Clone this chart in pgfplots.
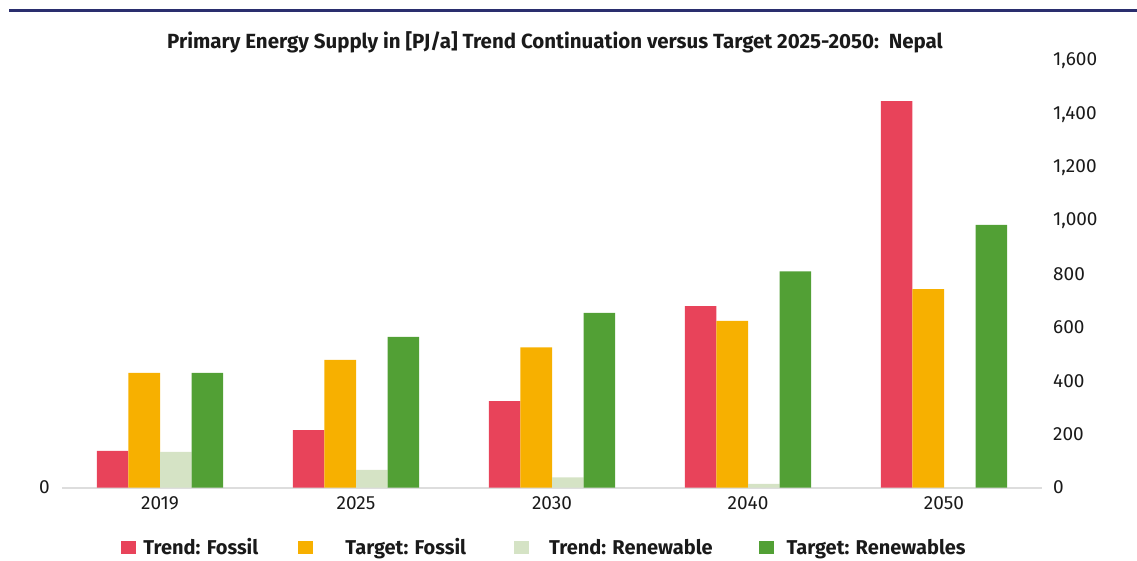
\documentclass[border=0pt]{standalone}
\usepackage{fontspec}
\setmainfont{Fira Sans}
\usepackage{pgfplots}
\pgfplotsset{compat=1.18}
\definecolor{cRed}{HTML}{E8435A}
\definecolor{cOrange}{HTML}{F7B000}
\definecolor{cLight}{HTML}{D5E3C5}
\definecolor{cGreen}{HTML}{52A035}
\definecolor{cNavy}{HTML}{2A2E6E}
\definecolor{cText}{HTML}{1A1A1A}
\definecolor{cBase}{HTML}{DDDDDD}
\begin{document}
\begin{tikzpicture}[x=1pt,y=1pt]
\useasboundingbox (0,0) rectangle (1137,560);
\draw[cNavy, line width=3pt] (9,549) -- (1137,549);
\node[anchor=base, inner sep=0pt, text=cText, font=\bfseries\fontsize{20.5}{24}\selectfont] at (555,511.7) {Primary Energy Supply in [PJ/a] Trend Continuation versus Target 2025-2050:\ \ Nepal};
\begin{axis}[
  at={(62pt,72.5pt)}, anchor=south west,
  scale only axis, width=980pt, height=426.5pt,
  xmin=-0.5, xmax=4.5, ymin=0, ymax=1600,
  ybar=0pt, bar width=31.6pt,
  axis x line*=bottom, axis y line*=right,
  x axis line style={draw=cBase, line width=2pt},
  y axis line style={draw=none},
  major tick length=0pt,
  xtick={0,1,2,3,4},
  xticklabels={2019,2025,2030,2040,2050},
  ytick={0,200,...,1600},
  /pgf/number format/assume math mode=true,
  /pgf/number format/1000 sep={,},
  ticklabel style={text=cText, font=\fontsize{19}{23}\selectfont},
  xticklabel style={anchor=base, inner sep=0pt, yshift=-21.5pt},
  yticklabel style={anchor=west, inner sep=0pt, xshift=11pt},
  every axis plot post/.append style={draw=none,
    legend image code/.code={\fill[##1] (0pt,0pt) rectangle (15pt,13pt);}},
  legend columns=4,
  legend style={draw=none, fill=none, inner sep=0pt, outer sep=0pt,
    at={(0.0602,-0.1595)}, anchor=south west,
    font=\bfseries\fontsize{20}{24}\selectfont, text=cText,
    cells={anchor=base west},
    /tikz/every even column/.append style={column sep=0pt},
    /tikz/every odd column/.append style={column sep=0pt},
    nodes={inner sep=0pt, outer sep=0pt}},
]
\addplot[fill=cRed] coordinates {(0,137) (1,215) (2,324) (3,680) (4,1449)};
\addplot[fill=cOrange] coordinates {(0,430) (1,479) (2,526) (3,625) (4,744)};
\addplot[fill=cLight] coordinates {(0,134) (1,66) (2,38) (3,14) (4,0)};
\addplot[fill=cGreen] coordinates {(0,430) (1,565) (2,655) (3,811) (4,985)};
\legend{\makebox[162.5pt][l]{\strut\hspace{7.5pt}Trend: Fossil},
        \makebox[200.1pt][l]{\strut\hspace{32pt}Target: Fossil},
        \makebox[230.4pt][l]{\strut\hspace{20.6pt}Trend: Renewable},
        \makebox[200pt][l]{\strut\hspace{12.6pt}Target: Renewables}}
\end{axis}
\begin{axis}[
  at={(62pt,72.5pt)}, anchor=south west,
  scale only axis, width=980pt, height=426.5pt,
  xmin=-0.5, xmax=4.5, ymin=0, ymax=1600,
  axis x line=none, axis y line*=left,
  y axis line style={draw=none},
  major tick length=0pt,
  ytick={0},
  /pgf/number format/assume math mode=true,
  yticklabel style={anchor=east, inner sep=0pt, xshift=-12pt, text=cText, font=\fontsize{19}{23}\selectfont},
]
\end{axis}
\end{tikzpicture}
\end{document}
